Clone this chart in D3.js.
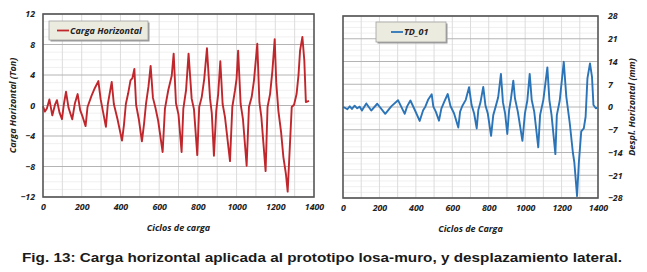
<!DOCTYPE html>
<html>
<head>
<meta charset="utf-8">
<script src="https://cdn.jsdelivr.net/npm/d3@7"></script>
<style>
  body { margin: 0; background: #fff; }
  svg text { font-family: "Open Sans", "DejaVu Sans", sans-serif; }
  .tick text { font-size: 8.8px; font-weight: bold; font-style: italic; fill: #222; }
  .title { font-size: 9px; font-weight: bold; font-style: italic; fill: #222; }
</style>
</head>
<body>
<div id="box-div"></div>
<script>
// datos
const cycleTicks = [0, 200, 400, 600, 800, 1000, 1200, 1400]
const loadTicks = [-12, -8, -4, 0, 4, 8, 12]
const dispTicks = [-28, -21, -14, -7, 0, 7, 14, 21, 28]

const loadCycles = [0, 10, 20, 33, 48, 62, 72, 85, 98, 108, 119, 132, 151, 165, 179, 192, 205, 220, 230, 251, 268, 286, 298, 310, 325, 335, 355, 366, 385, 408, 418, 428, 440, 452, 462, 472, 481, 495, 511, 522, 532, 545, 556, 568, 580, 595, 618, 630, 647, 665, 675, 687, 700, 716, 725, 739, 752, 768, 780, 797, 807, 820, 833, 847, 863, 872, 883, 895, 905, 916, 928, 940, 966, 978, 992, 1000, 1008, 1021, 1033, 1052, 1064, 1078, 1090, 1107, 1118, 1128, 1150, 1160, 1173, 1185, 1197, 1205, 1216, 1230, 1242, 1255, 1264, 1285, 1297, 1310, 1320, 1328, 1340, 1350, 1358, 1374]
const loadValues = [-0.1, -0.8, -0.4, 0.8, -1.3, 0.1, 0.7, -0.9, -1.8, 0.2, 1.8, -0.3, -1.8, 0.3, 1.5, -0.6, -1.5, -2.7, -0.2, 1.3, 2.3, 3.2, 0.8, -0.8, -2.8, 0.2, 3.1, 0.2, -1.8, -4.6, -2.6, 0.2, 1.6, 3.3, 3.6, 4.8, 0.1, -1.8, -4.7, -2.4, 0.2, 2.5, 5.2, 1.0, -0.2, -2.0, -6.1, -0.4, 2.0, 3.9, 6.8, 0.3, -1.2, -6.1, -0.4, 2.0, 6.8, 0.9, -0.5, -6.5, -0.2, 1.1, 3.5, 7.5, 0.9, -1.0, -6.6, -0.7, 1.5, 5.8, 0.2, -1.5, -7.3, -0.2, 2.0, 3.5, 7.2, 0.2, -1.8, -7.9, -0.2, 1.1, 3.3, 8.1, 0.4, -1.5, -8.6, -0.2, 1.5, 4.5, 8.7, 3.0, -0.7, -3.5, -6.8, -9.0, -11.3, -0.2, 0.1, 1.5, 4.0, 7.2, 9.0, 5.9, 0.45, 0.6]

const dispCycles = [0, 12, 24, 37, 49, 64, 78, 92, 104, 128, 155, 188, 232, 265, 302, 339, 352, 370, 395, 421, 440, 452, 467, 487, 496, 510, 527, 540, 555, 575, 590, 610, 633, 643, 655, 674, 692, 706, 720, 734, 743, 755, 770, 782, 795, 813, 825, 840, 852, 867, 878, 890, 902, 912, 922, 935, 944, 960, 985, 999, 1012, 1025, 1036, 1050, 1072, 1082, 1100, 1122, 1133, 1145, 1166, 1174, 1190, 1212, 1226, 1245, 1262, 1270, 1285, 1295, 1308, 1322, 1332, 1342, 1356, 1367, 1375, 1388, 1395]
const dispValues = [0, -0.3, -0.7, 0.2, -0.6, 0.4, -0.4, 0.1, -1.1, 1.1, -1.1, 1.0, -2.1, 0.2, 2.1, -2.1, 0.2, 2.0, -1.0, -4.3, -1.0, 0.1, 2.2, 3.9, 0.1, -1.5, -4.2, -0.5, 1.5, 4.0, 0.3, -2.0, -6.3, -1.4, 0.3, 2.2, 6.1, 0.6, -2, -6.6, -0.9, 1.5, 6.2, 0.5, -2, -8.9, -2.5, 0.5, 3, 10.2, 1.5, -2, -8.3, -1.0, 2.5, 8.1, 2.7, -1.5, -10.4, -1.9, 2, 10.2, 2.2, -1.5, -12.4, -2.5, 2.2, 12.2, 2.2, -2.5, -14.5, -2.5, 2, 13.9, 3.2, -5, -14, -17, -27.4, -17, -7.5, -6.6, -3, 8.8, 13.4, 9.3, 0.6, -0.4, -0.2]

const box = d3.select('#box-div').append('svg')
    .attr('width', 647)
    .attr('height', 272)

const drawPanel = (opt) => {
    const w = opt.x1 - opt.x0
    const h = opt.y1 - opt.y0
    const g = box.append('g')
        .attr('transform', `translate(${opt.x0},${opt.y0})`)

    const xScale = d3.scaleLinear().domain([0, 1400]).range([0, w])
    const yScale = d3.scaleLinear().domain(opt.yDomain).range([h, 0])

    // rejilla
    const minor = []
    for (let i = 0; i < opt.yTicks.length - 1; i++) {
        const a = opt.yTicks[i], b = opt.yTicks[i + 1]
        for (let k = 1; k < 4; k++) minor.push(a + (b - a) * k / 4)
    }
    g.append('g').selectAll('line')
        .data(minor)
        .join('line')
        .attr('x1', 0).attr('x2', w)
        .attr('y1', d => yScale(d)).attr('y2', d => yScale(d))
        .attr('stroke', '#f0f0f0')
    g.append('g').selectAll('line')
        .data(d3.range(100, 1400, 100))
        .join('line')
        .attr('x1', d => xScale(d)).attr('x2', d => xScale(d))
        .attr('y1', 0).attr('y2', h)
        .attr('stroke', '#dcdcdc')
    g.append('g').selectAll('line')
        .data(opt.yTicks)
        .join('line')
        .attr('x1', 0).attr('x2', w)
        .attr('y1', d => yScale(d)).attr('y2', d => yScale(d))
        .attr('stroke', '#b4b4b4')

    // ejes
    const xAxis = g.append('g')
        .attr('transform', `translate(0,${h})`)
        .call(d3.axisBottom(xScale).tickValues(cycleTicks).tickFormat(d3.format('d')).tickSize(0).tickPadding(7))
    xAxis.select('.domain').remove()

    const yGen = opt.right
        ? d3.axisRight(yScale).tickValues(opt.yTicks).tickFormat(d3.format('d')).tickSize(0).tickPadding(10)
        : d3.axisLeft(yScale).tickValues(opt.yTicks).tickFormat(d3.format('d')).tickSize(0).tickPadding(8)
    const yAxis = g.append('g')
        .attr('transform', opt.right ? `translate(${w},0)` : null)
        .call(yGen)
    yAxis.select('.domain').remove()

    // serie
    const line = d3.line()
        .x((d, i) => xScale(opt.xs[i]))
        .y(d => yScale(d))
    g.append('path')
        .datum(opt.ys)
        .attr('fill', 'none')
        .attr('stroke', opt.color)
        .attr('stroke-width', 1.9)
        .attr('stroke-linejoin', 'round')
        .attr('d', line)

    // marco
    g.append('rect')
        .attr('width', w).attr('height', h)
        .attr('fill', 'none')
        .attr('stroke', '#555')
        .attr('stroke-width', 1.6)

    // leyenda
    const lg = g.append('g')
        .attr('transform', `translate(${opt.legend[0]},${opt.legend[1]})`)
    lg.append('rect')
        .attr('x', 1.5).attr('y', 1.5)
        .attr('width', opt.legend[2]).attr('height', opt.legend[3])
        .attr('fill', '#9a9a9a')
    lg.append('rect')
        .attr('width', opt.legend[2]).attr('height', opt.legend[3])
        .attr('fill', '#ecebe0')
        .attr('stroke', '#a0a0a0')
        .attr('stroke-width', 0.8)
    lg.append('line')
        .attr('x1', opt.legend[4]).attr('x2', opt.legend[4] + 12)
        .attr('y1', opt.legend[3] / 2).attr('y2', opt.legend[3] / 2)
        .attr('stroke', opt.color).attr('stroke-width', 1.8)
    lg.append('text')
        .attr('class', 'title')
        .attr('x', opt.legend[4] + 13)
        .attr('y', opt.legend[3] / 2 + 3.2)
        .text(opt.name)

    // titulos
    g.append('text')
        .attr('class', 'title')
        .attr('text-anchor', 'middle')
        .attr('x', w / 2)
        .attr('y', h + 34)
        .text(opt.xTitle)
    g.append('text')
        .attr('class', 'title')
        .attr('text-anchor', 'middle')
        .attr('transform', opt.right
            ? `translate(${w + 37},${h / 2}) rotate(-90)`
            : `translate(-27,${h / 2}) rotate(-90)`)
        .text(opt.yTitle)
}

drawPanel({
    x0: 43, x1: 314, y0: 14, y1: 197,
    yDomain: [-12, 12], yTicks: loadTicks,
    xs: loadCycles, ys: loadValues,
    color: '#c0272d', name: 'Carga Horizontal',
    legend: [6, 7, 99, 19, 8],
    xTitle: 'Ciclos de carga', yTitle: 'Carga Horizontal (Ton)',
    right: false
})

drawPanel({
    x0: 343, x1: 598, y0: 16, y1: 198,
    yDomain: [-28, 28], yTicks: dispTicks,
    xs: dispCycles, ys: dispValues,
    color: '#2b74b8', name: 'TD_01',
    legend: [33, 6, 70, 20, 15],
    xTitle: 'Ciclos de Carga', yTitle: 'Despl. Horizontal (mm)',
    right: true
})

box.append('text')
    .attr('x', 22)
    .attr('y', 262)
    .attr('textLength', 600)
    .attr('lengthAdjust', 'spacingAndGlyphs')
    .style('font-family', '"Liberation Sans", Arial, sans-serif')
    .style('font-size', '13.5px')
    .style('font-weight', 'bold')
    .style('fill', '#1a1a1a')
    .text('Fig. 13: Carga horizontal aplicada al prototipo losa-muro, y desplazamiento lateral.')
</script>
</body>
</html>
